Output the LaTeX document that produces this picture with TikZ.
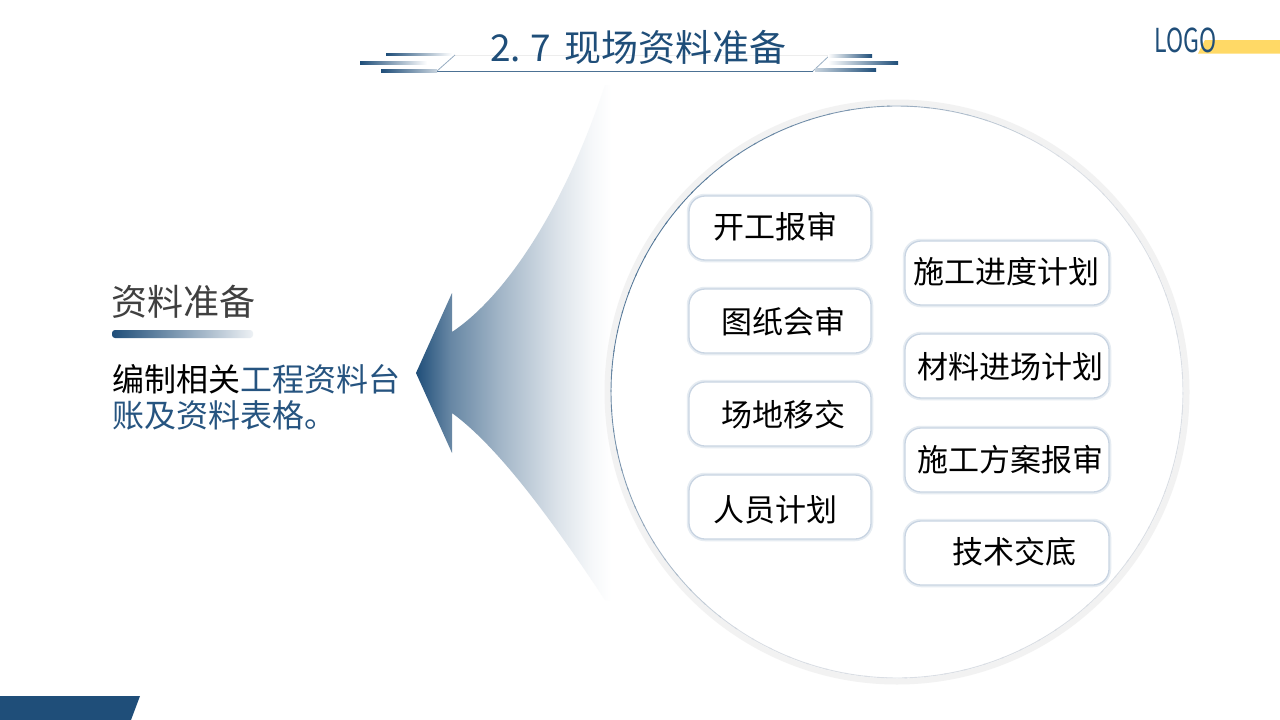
\documentclass[tikz,border=0pt]{standalone}
\usepackage{fontspec}
\setmainfont{Noto Sans CJK SC}
\definecolor{mainblue}{RGB}{31,78,121}
\definecolor{txtblue}{RGB}{38,84,128}
\definecolor{goldbar}{RGB}{255,217,102}
\definecolor{boxedge}{RGB}{200,212,226}
\definecolor{darktext}{RGB}{64,64,64}
\definecolor{lightring}{RGB}{218,222,228}
\pgfdeclarehorizontalshading{arrowshade}{100bp}{color(0bp)=(mainblue); color(25bp)=(mainblue); color(32bp)=(mainblue!68!white); color(42bp)=(mainblue!42!white); color(54bp)=(mainblue!16!white); color(61bp)=(mainblue!4!white); color(65bp)=(white); color(100bp)=(white)}
\tikzset{
  itembox/.style={rounded corners=16, fill=white, draw=boxedge, line width=1.3,
    preaction={draw=boxedge!45, line width=4.5}},
  leftbox/.style={itembox, minimum width=182, minimum height=64},
  rightbox/.style={itembox, minimum width=204, minimum height=64},
  itemtext/.style={inner sep=0, text=black, font=\fontsize{31}{36}\selectfont},
}
\begin{document}
\begin{tikzpicture}[x=1pt,y=-1pt]
\useasboundingbox (0,0) rectangle (1280,720);
\fill[white] (0,0) rectangle (1280,720);

% title decoration
\draw[black!7, line width=0.8] (455,55) -- (830,55);
\draw[mainblue!45, line width=0.8] (437,71) -- (455,55);
\draw[mainblue!45, line width=0.8] (813,71) -- (830,55);
\draw[mainblue!80, line width=1] (437,71) -- (813,71);
\shade[left color=mainblue, right color=white] (386,53) rectangle (452,55.8);
\shade[left color=mainblue, right color=white] (360,61.6) rectangle (427,64.4);
\shade[left color=mainblue, right color=mainblue!25!white] (381,69.6) rectangle (437,72.4);
\shade[left color=white, right color=mainblue] (828,54.6) rectangle (872,57.4);
\shade[left color=white, right color=mainblue] (828,61.6) rectangle (898,64.4);
\shade[left color=mainblue!25!white, right color=mainblue] (815,68.6) rectangle (876,71.4);
\node[text=mainblue, font=\fontsize{37}{40}\selectfont, anchor=west, inner sep=0] (title) at (490,47) {2.\hspace{9pt}7\hspace{14pt}现场资料准备};

% logo
\fill[goldbar] (1205,40) -- (1280,40) -- (1280,53.5) -- (1198,53.5) -- cycle;
\node[text=mainblue, font=\fontsize{33}{36}\selectfont, inner sep=0, anchor=west] (logo) at (1154,40) {\scalebox{0.7}[1]{LOGO}};

% bottom-left band
\fill[mainblue] (0,696) -- (140,696) -- (131,720) -- (0,720) -- cycle;

% arrow
\shade[shading=arrowshade] (416,373) -- (452,293) -- (452,332)
  .. controls (500,300) and (560,220) .. (605,85) -- (660,85) -- (660,600) -- (605,600)
  .. controls (555,525) and (500,448) .. (452,413) -- (452,453) -- cycle;

% circle
\coordinate (cc) at (897,392);
\draw[black!5, line width=6] (cc) circle (289.5);
\fill[white] (cc) circle (286.5);
\foreach \a in {0,4,...,356}{
  \pgfmathtruncatemacro\w{max(0,cos(\a-210))*72}
  \draw[draw=mainblue!\w!lightring, line width=0.9] ([shift={(\a:286)}]cc) arc[start angle=\a, end angle=\a+4.5, radius=286];
}

% left text
\node[anchor=west, text=darktext, font=\fontsize{36}{40}\selectfont, inner sep=0] (head) at (111,302) {资料准备};
\shade[left color=mainblue, right color=mainblue!8!white, rounded corners=3] (112,330) rectangle (253,338);
\node[anchor=west, inner sep=0, font=\fontsize{32}{36}\selectfont] (line1) at (112,379) {编制相关\textcolor{txtblue}{工程资料台}};
\node[anchor=west, inner sep=0, text=txtblue, font=\fontsize{32}{36}\selectfont] (line2) at (112,415) {账及资料表格。};

% boxes
\node[leftbox] (b1) at (780,228) {};
\node[leftbox] (b2) at (780,321) {};
\node[leftbox] (b3) at (780,414) {};
\node[leftbox] (b4) at (780,507) {};
\node[rightbox] (b5) at (1007,273) {};
\node[rightbox] (b6) at (1007,366) {};
\node[rightbox] (b7) at (1007,460) {};
\node[rightbox] (b8) at (1007,553) {};

\node[itemtext] (t1) at (775.5,227) {开工报审};
\node[itemtext] (t2) at (783.5,322) {图纸会审};
\node[itemtext] (t3) at (783.5,415) {场地移交};
\node[itemtext] (t4) at (775.5,510) {人员计划};
\node[itemtext] (t5) at (1006.5,272) {施工进度计划};
\node[itemtext] (t6) at (1010.5,367) {材料进场计划};
\node[itemtext] (t7) at (1010.5,460) {施工方案报审};
\node[itemtext] (t8) at (1014,552) {技术交底};
\end{tikzpicture}
\end{document}
